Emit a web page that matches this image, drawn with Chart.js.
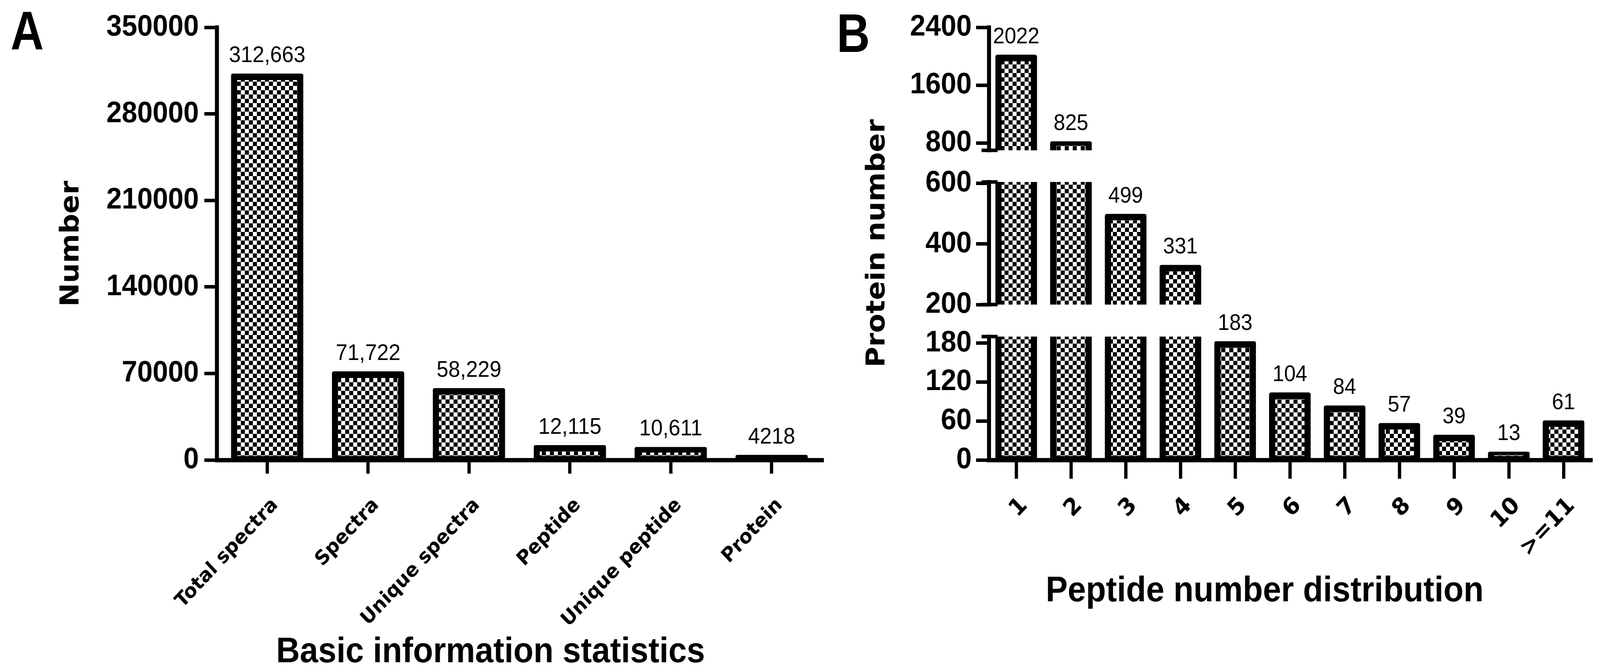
<!DOCTYPE html>
<html lang="en">
<head>
<meta charset="UTF-8">
<title>Basic information statistics / Peptide number distribution</title>
<script src="https://cdn.jsdelivr.net/npm/chart.js@4.4.1/dist/chart.umd.min.js"></script>
<style>
  html, body { margin: 0; padding: 0; background: #fff; overflow: hidden; }
  #fig { position: relative; width: 4385px; height: 1721px; transform-origin: left top; }
  canvas { position: absolute; top: 0; }
  #chartA { left: 0; }
  #chartB { left: 2280px; }
  .letter {
    position: absolute;
    font-family: 'Liberation Sans', Arial, sans-serif;
    font-weight: bold;
    font-size: 140px;
    line-height: 1;
    transform-origin: left top;
    transform: scaleX(0.9);
  }
</style>
</head>
<body>
<div id="fig">
  <div class="letter" style="left:29px; top:9px;">A</div>
  <div class="letter" style="left:2293px; top:15px;">B</div>
  <canvas id="chartA" width="2280" height="1721"></canvas>
  <canvas id="chartB" width="2105" height="1721"></canvas>
</div>

<script>
// the figure is laid out at 4385 px wide; squeeze it if the window is narrower
if (window.innerWidth < 4385) {
  document.getElementById('fig').style.transform = 'scaleX(' + (window.innerWidth / 4385) + ')';
}

// --- panel A: basic information statistics ---
const basicLabels = ['Total spectra', 'Spectra', 'Unique spectra', 'Peptide', 'Unique peptide', 'Protein'];
const basicCounts = [312663, 71722, 58229, 12115, 10611, 4218];
const basicCountText = ['312,663', '71,722', '58,229', '12,115', '10,611', '4218'];
const basicTicks = [0, 70000, 140000, 210000, 280000, 350000];

// --- panel B: peptide number distribution (broken y axis) ---
const peptideLabels = ['1', '2', '3', '4', '5', '6', '7', '8', '9', '10', '>=11'];
const proteinCounts = [2022, 825, 499, 331, 183, 104, 84, 57, 39, 13, 61];
const lowTicks = [0, 60, 120, 180];
const midTicks = [200, 400, 600];
const highTicks = [800, 1600, 2400];
const lowRange = [0, 190];
const midRange = [200, 604];
const highRange = [700, 2400];

Chart.defaults.font.family = "'Liberation Sans', Arial, sans-serif";
Chart.defaults.color = '#000';

// black/white checkerboard fill like the Prism bars
function checker(ctx, cell) {
  const tile = document.createElement('canvas');
  tile.width = tile.height = cell * 2;
  const g = tile.getContext('2d');
  g.fillStyle = '#fff';
  g.fillRect(0, 0, cell * 2, cell * 2);
  g.fillStyle = '#000';
  g.fillRect(0, 0, cell, cell);
  g.fillRect(cell, cell, cell, cell);
  return ctx.createPattern(tile, 'repeat');
}

// numbers above the bars
const valueLabels = {
  id: 'valueLabels',
  afterDatasetsDraw(chart, args, opts) {
    const ctx = chart.ctx;
    ctx.save();
    ctx.font = opts.size + "px 'Liberation Sans', Arial, sans-serif";
    ctx.fillStyle = '#000';
    ctx.textAlign = 'center';
    ctx.textBaseline = 'alphabetic';
    chart.data.datasets.forEach((ds, di) => {
      chart.getDatasetMeta(di).data.forEach((bar, i) => {
        if (ds.ends && !ds.ends[i]) return;
        ctx.fillText(opts.text[i], bar.x, bar.y - opts.gap);
      });
    });
    ctx.restore();
  }
};

// x axis title, Prism puts it a bit left of the plot centre
const xTitle = {
  id: 'xTitle',
  afterDraw(chart, args, opts) {
    const { ctx, chartArea } = chart;
    ctx.save();
    ctx.font = "bold 90px 'Liberation Sans', Arial, sans-serif";
    ctx.fillStyle = '#000';
    ctx.textAlign = 'center';
    ctx.textBaseline = 'alphabetic';
    ctx.fillText(opts.text, (chartArea.left + chartArea.right) / 2 + opts.shift, chartArea.bottom + opts.drop);
    ctx.restore();
  }
};

// little caps where the y axis is broken
const axisBreaks = {
  id: 'axisBreaks',
  afterDraw(chart, args, opts) {
    if (!opts.caps) return;
    const ctx = chart.ctx;
    ctx.save();
    ctx.strokeStyle = '#000';
    ctx.lineWidth = 9;
    opts.caps.forEach(([id, edge]) => {
      const s = chart.scales[id];
      const y = edge === 'top' ? s.top : s.bottom;
      ctx.beginPath();
      ctx.moveTo(s.right - 20, y);
      ctx.lineTo(s.right + 24, y);
      ctx.stroke();
    });
    ctx.restore();
  }
};

const tickGrid = (len) => ({
  display: true,
  drawOnChartArea: false,
  drawTicks: true,
  tickLength: len,
  lineWidth: 9,
  color: '#000',
  offset: false
});
const axisLine = { display: true, width: 11, color: '#000' };
const yTickFont = { family: "'Liberation Sans', Arial, sans-serif", weight: 'bold', size: 76 };
const catFont = (size) => ({ family: "'DejaVu Sans', Verdana, sans-serif", weight: 'bold', size: size });
const yTitleFont = { family: "'DejaVu Sans', Verdana, sans-serif", weight: 'bold', size: 72 };

// ---------------- chart A ----------------
const ctxA = document.getElementById('chartA').getContext('2d');
new Chart(ctxA, {
  type: 'bar',
  data: {
    labels: basicLabels,
    datasets: [{
      data: basicCounts,
      backgroundColor: checker(ctxA, 11),
      borderColor: '#000',
      borderSkipped: false,
      borderWidth: { left: 17, right: 17, top: 17, bottom: 6 },
      borderRadius: { topLeft: 5, topRight: 5, bottomLeft: 0, bottomRight: 0 },
      categoryPercentage: 1,
      barPercentage: 0.717
    }]
  },
  options: {
    responsive: false,
    devicePixelRatio: 1,
    animation: false,
    layout: { padding: { left: 0, top: 70, right: 27, bottom: 0 } },
    plugins: {
      legend: { display: false },
      tooltip: { enabled: false },
      valueLabels: { text: basicCountText, gap: 29, size: 58 },
      xTitle: { text: 'Basic information statistics', shift: -79, drop: 518 }
    },
    scales: {
      x: {
        grid: tickGrid(35),
        border: axisLine,
        ticks: { font: catFont(51), color: '#000', minRotation: 45, maxRotation: 45, autoSkip: false, padding: 51, labelOffset: 22 },
        afterFit: (s) => { s.height = 543; }
      },
      y: {
        min: 0,
        max: 350000,
        afterBuildTicks: (s) => { s.ticks = basicTicks.map(v => ({ value: v })); },
        grid: tickGrid(34),
        border: axisLine,
        ticks: { font: yTickFont, color: '#000', padding: 15, autoSkip: false, callback: (v) => String(v) },
        title: { display: true, text: 'Number', font: yTitleFont, color: '#000', padding: { top: 153, bottom: 0 } },
        afterFit: (s) => { s.width = 594; }
      }
    }
  },
  plugins: [valueLabels, xTitle]
});

// ---------------- chart B ----------------
const ctxB = document.getElementById('chartB').getContext('2d');
const patternB = checker(ctxB, 11);

// one dataset per axis segment: the part of each bar that falls in that segment
function segment(range, axisId) {
  const lo = range[0], hi = range[1];
  const ends = proteinCounts.map(v => v > lo && v <= hi);
  return {
    data: proteinCounts.map(v => (v > lo ? [lo, Math.min(v, hi)] : null)),
    yAxisID: axisId,
    ends: ends,
    grouped: false,
    backgroundColor: patternB,
    borderColor: '#000',
    borderSkipped: false,
    borderWidth: (c) => ({ left: 17, right: 17, top: ends[c.dataIndex] ? 17 : 0, bottom: lo === 0 ? 6 : 0 }),
    borderRadius: (c) => (ends[c.dataIndex] ? { topLeft: 5, topRight: 5, bottomLeft: 0, bottomRight: 0 } : 0),
    categoryPercentage: 1,
    barPercentage: 0.76
  };
}

function brokenAxis(range, ticks, weight, stackWeight) {
  return {
    type: 'linear',
    axis: 'y',
    position: 'left',
    stack: 'protein',
    stackWeight: stackWeight,
    weight: weight,
    min: range[0],
    max: range[1],
    afterBuildTicks: (s) => { s.ticks = ticks.map(v => ({ value: v })); },
    grid: tickGrid(35),
    border: axisLine,
    ticks: { font: yTickFont, color: '#000', padding: 12, autoSkip: false, callback: (v) => String(v) },
    afterFit: (s) => { s.width = 430; }
  };
}

function spacer(weight, stackWeight) {
  return {
    type: 'linear',
    axis: 'y',
    position: 'left',
    stack: 'protein',
    stackWeight: stackWeight,
    weight: weight,
    min: 0,
    max: 1,
    ticks: { display: false },
    grid: { display: false },
    border: { display: false }
  };
}

const midAxis = brokenAxis(midRange, midTicks, 3, 314);
midAxis.title = { display: true, text: 'Protein number', font: yTitleFont, color: '#000', padding: { top: 82, bottom: 0 } };

new Chart(ctxB, {
  type: 'bar',
  data: {
    labels: peptideLabels,
    datasets: [
      segment(lowRange, 'yLow'),
      segment(midRange, 'yMid'),
      segment(highRange, 'yHigh')
    ]
  },
  options: {
    responsive: false,
    devicePixelRatio: 1,
    animation: false,
    layout: { padding: { left: 0, top: 70, right: 25, bottom: 0 } },
    plugins: {
      legend: { display: false },
      tooltip: { enabled: false },
      valueLabels: { text: proteinCounts.map(String), gap: 29, size: 57 },
      xTitle: { text: 'Peptide number distribution', shift: -69, drop: 362 },
      axisBreaks: { caps: [['yHigh', 'bottom'], ['yMid', 'top'], ['yMid', 'bottom'], ['yLow', 'top']] }
    },
    scales: {
      x: {
        grid: tickGrid(48),
        border: axisLine,
        ticks: { font: catFont(60), color: '#000', minRotation: 45, maxRotation: 45, autoSkip: false, padding: 34, labelOffset: 22 },
        afterFit: (s) => { s.height = 543; }
      },
      yLow: brokenAxis(lowRange, lowTicks, 1, 316),
      gapLow: spacer(2, 82),
      yMid: midAxis,
      gapHigh: spacer(4, 81),
      yHigh: brokenAxis(highRange, highTicks, 5, 315)
    }
  },
  plugins: [valueLabels, xTitle, axisBreaks]
});
</script>
</body>
</html>
